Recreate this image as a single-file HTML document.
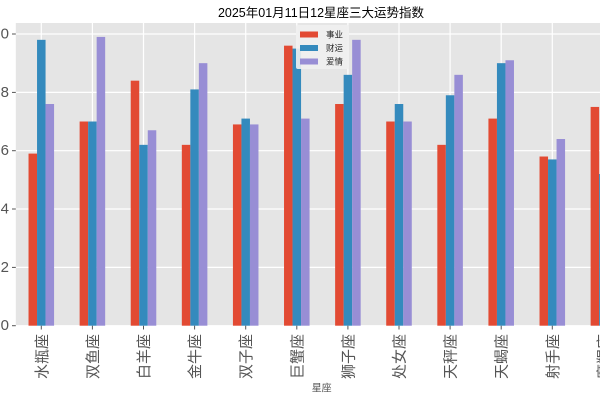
<!DOCTYPE html>
<html><head><meta charset="utf-8"><style>
html,body{margin:0;padding:0;background:#fff;}
svg{display:block;}
text{font-family:"Liberation Sans","WenQuanYi Zen Hei","Noto Sans CJK SC",sans-serif;}
</style></head><body>
<svg width="600" height="400" viewBox="0 0 600 400" xmlns="http://www.w3.org/2000/svg">
<rect x="0" y="0" width="600" height="400" fill="#fff"/>
<!-- axes background -->
<rect x="15.8" y="23" width="612.2" height="302.7" fill="#E5E5E5"/>
<!-- grid -->
<g stroke="#fff" stroke-width="1.2">
<line x1="15.8" x2="628" y1="325.7" y2="325.7"/>
<line x1="15.8" x2="628" y1="267.4" y2="267.4"/>
<line x1="15.8" x2="628" y1="209.0" y2="209.0"/>
<line x1="15.8" x2="628" y1="150.7" y2="150.7"/>
<line x1="15.8" x2="628" y1="92.4" y2="92.4"/>
<line x1="15.8" x2="628" y1="34.0" y2="34.0"/>
<line x1="41.3" x2="41.3" y1="23" y2="325.7"/>
<line x1="92.4" x2="92.4" y1="23" y2="325.7"/>
<line x1="143.5" x2="143.5" y1="23" y2="325.7"/>
<line x1="194.6" x2="194.6" y1="23" y2="325.7"/>
<line x1="245.7" x2="245.7" y1="23" y2="325.7"/>
<line x1="296.8" x2="296.8" y1="23" y2="325.7"/>
<line x1="347.9" x2="347.9" y1="23" y2="325.7"/>
<line x1="399.0" x2="399.0" y1="23" y2="325.7"/>
<line x1="450.1" x2="450.1" y1="23" y2="325.7"/>
<line x1="501.2" x2="501.2" y1="23" y2="325.7"/>
<line x1="552.3" x2="552.3" y1="23" y2="325.7"/>
<line x1="603.4" x2="603.4" y1="23" y2="325.7"/>
</g>
<!-- bars -->
<g transform="matrix(51.1 0 0 -29.17 41.3 325.7)">
<g fill="#E24A33">
<rect x="-0.25" y="0" width="0.16667" height="5.9"/>
<rect x="0.75" y="0" width="0.16667" height="7.0"/>
<rect x="1.75" y="0" width="0.16667" height="8.4"/>
<rect x="2.75" y="0" width="0.16667" height="6.2"/>
<rect x="3.75" y="0" width="0.16667" height="6.9"/>
<rect x="4.75" y="0" width="0.16667" height="9.6"/>
<rect x="5.75" y="0" width="0.16667" height="7.6"/>
<rect x="6.75" y="0" width="0.16667" height="7.0"/>
<rect x="7.75" y="0" width="0.16667" height="6.2"/>
<rect x="8.75" y="0" width="0.16667" height="7.1"/>
<rect x="9.75" y="0" width="0.16667" height="5.8"/>
<rect x="10.75" y="0" width="0.16667" height="7.5"/>
</g>
<g fill="#348ABD">
<rect x="-0.08333" y="0" width="0.16667" height="9.8"/>
<rect x="0.91667" y="0" width="0.16667" height="7.0"/>
<rect x="1.91667" y="0" width="0.16667" height="6.2"/>
<rect x="2.91667" y="0" width="0.16667" height="8.1"/>
<rect x="3.91667" y="0" width="0.16667" height="7.1"/>
<rect x="4.91667" y="0" width="0.16667" height="9.5"/>
<rect x="5.91667" y="0" width="0.16667" height="8.6"/>
<rect x="6.91667" y="0" width="0.16667" height="7.6"/>
<rect x="7.91667" y="0" width="0.16667" height="7.9"/>
<rect x="8.91667" y="0" width="0.16667" height="9.0"/>
<rect x="9.91667" y="0" width="0.16667" height="5.7"/>
<rect x="10.91667" y="0" width="0.16667" height="5.2"/>
</g>
<g fill="#988ED5">
<rect x="0.08333" y="0" width="0.16667" height="7.6"/>
<rect x="1.08333" y="0" width="0.16667" height="9.9"/>
<rect x="2.08333" y="0" width="0.16667" height="6.7"/>
<rect x="3.08333" y="0" width="0.16667" height="9.0"/>
<rect x="4.08333" y="0" width="0.16667" height="6.9"/>
<rect x="5.08333" y="0" width="0.16667" height="7.1"/>
<rect x="6.08333" y="0" width="0.16667" height="9.8"/>
<rect x="7.08333" y="0" width="0.16667" height="7.0"/>
<rect x="8.08333" y="0" width="0.16667" height="8.6"/>
<rect x="9.08333" y="0" width="0.16667" height="9.1"/>
<rect x="10.08333" y="0" width="0.16667" height="6.4"/>
<rect x="11.08333" y="0" width="0.16667" height="6.0"/>
</g>
</g>
<!-- ticks -->
<g stroke="#555" stroke-width="1">
<line x1="12" x2="15.8" y1="325.7" y2="325.7"/>
<line x1="12" x2="15.8" y1="267.4" y2="267.4"/>
<line x1="12" x2="15.8" y1="209.0" y2="209.0"/>
<line x1="12" x2="15.8" y1="150.7" y2="150.7"/>
<line x1="12" x2="15.8" y1="92.4" y2="92.4"/>
<line x1="12" x2="15.8" y1="34.0" y2="34.0"/>
<line x1="41.3" x2="41.3" y1="325.7" y2="329.5"/>
<line x1="92.4" x2="92.4" y1="325.7" y2="329.5"/>
<line x1="143.5" x2="143.5" y1="325.7" y2="329.5"/>
<line x1="194.6" x2="194.6" y1="325.7" y2="329.5"/>
<line x1="245.7" x2="245.7" y1="325.7" y2="329.5"/>
<line x1="296.8" x2="296.8" y1="325.7" y2="329.5"/>
<line x1="347.9" x2="347.9" y1="325.7" y2="329.5"/>
<line x1="399.0" x2="399.0" y1="325.7" y2="329.5"/>
<line x1="450.1" x2="450.1" y1="325.7" y2="329.5"/>
<line x1="501.2" x2="501.2" y1="325.7" y2="329.5"/>
<line x1="552.3" x2="552.3" y1="325.7" y2="329.5"/>
</g>
<!-- y tick labels -->
<g fill="#555" font-size="15" text-anchor="end" dominant-baseline="central">
<text x="9" y="325.7">0</text>
<text x="9" y="267.4">2</text>
<text x="9" y="209.0">4</text>
<text x="9" y="150.7">6</text>
<text x="9" y="92.4">8</text>
<text x="9" y="34.0">10</text>
</g>
<!-- x tick labels -->
<g fill="#555" font-size="15" text-anchor="end" dominant-baseline="central">
<text transform="translate(42.3,334) rotate(-90)">水瓶座</text>
<text transform="translate(93.4,334) rotate(-90)">双鱼座</text>
<text transform="translate(144.5,334) rotate(-90)">白羊座</text>
<text transform="translate(195.6,334) rotate(-90)">金牛座</text>
<text transform="translate(246.7,334) rotate(-90)">双子座</text>
<text transform="translate(297.8,334) rotate(-90)">巨蟹座</text>
<text transform="translate(348.9,334) rotate(-90)">狮子座</text>
<text transform="translate(400.0,334) rotate(-90)">处女座</text>
<text transform="translate(451.1,334) rotate(-90)">天秤座</text>
<text transform="translate(502.2,334) rotate(-90)">天蝎座</text>
<text transform="translate(553.3,334) rotate(-90)">射手座</text>
<text transform="translate(604.4,334) rotate(-90)">摩羯座</text>
</g>
<!-- x label -->
<text x="321.7" y="389" fill="#555" font-size="10" text-anchor="middle" dominant-baseline="central">星座</text>
<!-- title -->
<text x="321" y="13" fill="#000" font-size="12.5" text-anchor="middle" dominant-baseline="central">2025年01月11日12星座三大运势指数</text>
<!-- legend -->
<rect x="296" y="25" width="53" height="44" rx="2" fill="#EFEFEF" fill-opacity="0.9"/>
<rect x="300" y="31.5" width="18" height="6" fill="#E24A33"/>
<rect x="300" y="45" width="18" height="6" fill="#348ABD"/>
<rect x="300" y="58.5" width="18" height="6" fill="#988ED5"/>
<g fill="#222" font-size="8.5" dominant-baseline="central">
<text x="326" y="34.5">事业</text>
<text x="326" y="48">财运</text>
<text x="326" y="61.5">爱情</text>
</g>
</svg>
</body></html>
